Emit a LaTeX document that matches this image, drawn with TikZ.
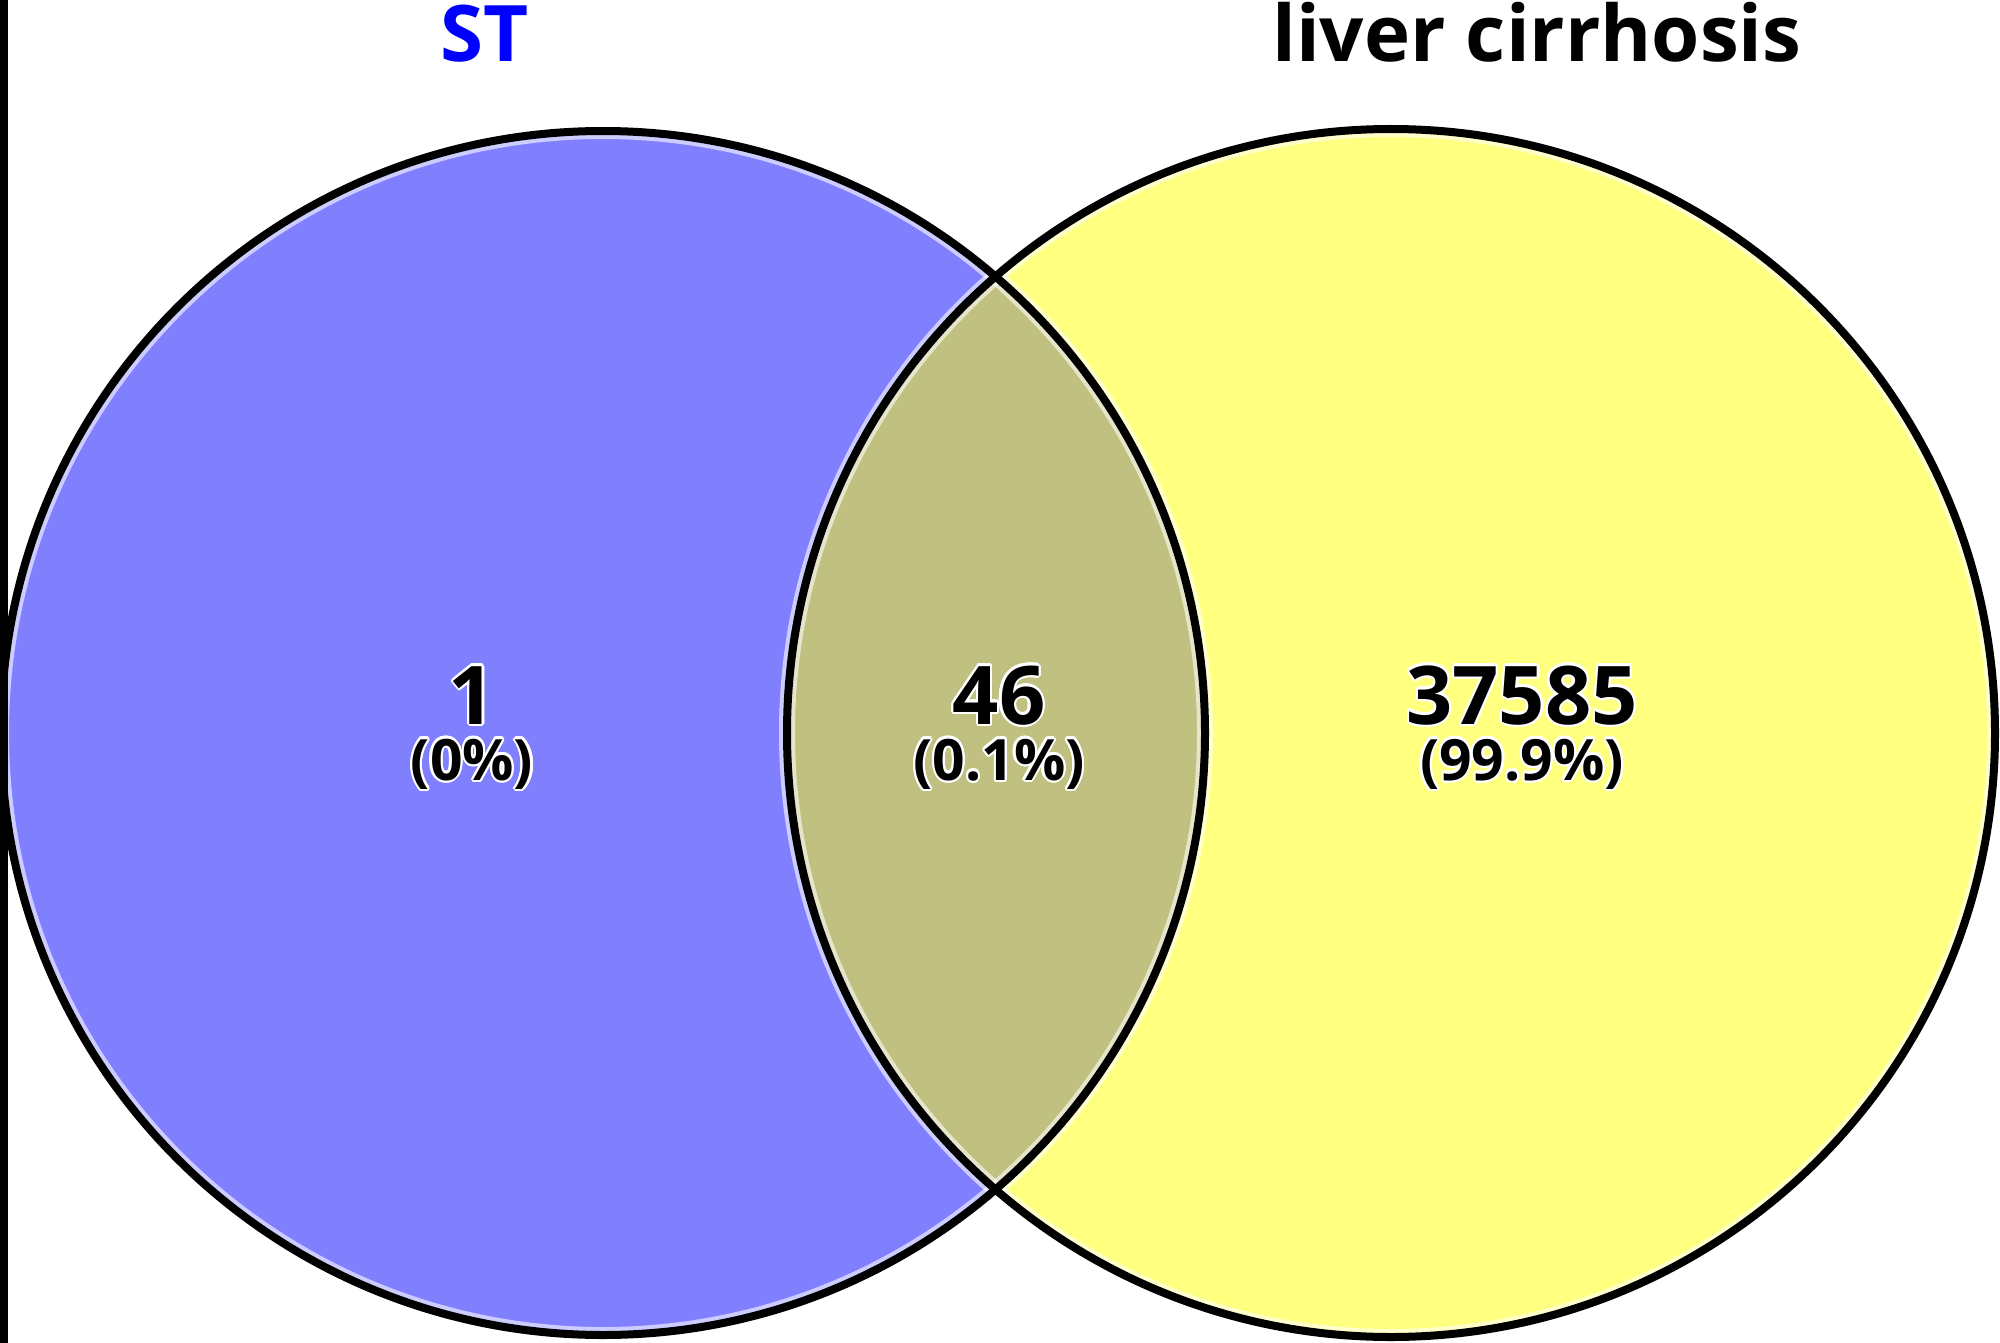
\documentclass[tikz,border=0pt]{standalone}
\usepackage{fontspec}
\setmainfont{Open Sans}
\usepackage{contour}
\contourlength{2.2pt}
\definecolor{setblue}{HTML}{8080FF}
\definecolor{setyellow}{HTML}{FFFF80}
\definecolor{setolive}{HTML}{C0C080}
\definecolor{titleblue}{HTML}{0000FF}
\tikzset{
  ring/.style={draw=black, line width=8pt},
  glow/.style={draw=white, line width=16pt, draw opacity=0.6},
  bignum/.style={anchor=base, inner sep=0pt, font=\fontsize{81}{97}\selectfont\bfseries},
  pctnum/.style={anchor=base, inner sep=0pt, font=\fontsize{57}{68}\selectfont\bfseries},
  title/.style={anchor=base, inner sep=0pt, font=\fontsize{78}{94}\selectfont\bfseries},
}
\newcommand{\halotext}[1]{\contour{white}{#1}}
\begin{document}
\begin{tikzpicture}[x=1pt,y=-1pt]
\useasboundingbox[fill=white] (0,0) rectangle (2000,1343);
\coordinate (cL) at (603,733);
\coordinate (cR) at (1391,733);
% fills
\fill[setblue] (cL) circle[radius=602pt];
\fill[setyellow] (cR) circle[radius=604pt];
\begin{scope}
  \clip (cL) circle[radius=602pt];
  \fill[setolive] (cR) circle[radius=604pt];
\end{scope}
% glow and outlines
\draw[glow] (cL) circle[radius=602pt];
\draw[glow] (cR) circle[radius=604pt];
\draw[ring] (cL) circle[radius=602pt];
\draw[ring] (cR) circle[radius=604pt];
% left black bar
\fill[black] (0,0) rectangle (8,1343);
% titles
\node[title, text=titleblue] (tST) at (485,62) {ST};
\node[title, text=black] (tLC) at (1537,62) {liver cirrhosis};
% counts
\node[bignum] (nL) at (472,724) {\halotext{1}};
\node[pctnum] (pL) at (472,780) {\halotext{(0\%)}};
\node[bignum] (nM) at (999,724) {\halotext{46}};
\node[pctnum] (pM) at (999,780) {\halotext{(0.1\%)}};
\node[bignum] (nR) at (1522,724) {\halotext{37585}};
\node[pctnum] (pR) at (1522,780) {\halotext{(99.9\%)}};
\end{tikzpicture}
\end{document}
